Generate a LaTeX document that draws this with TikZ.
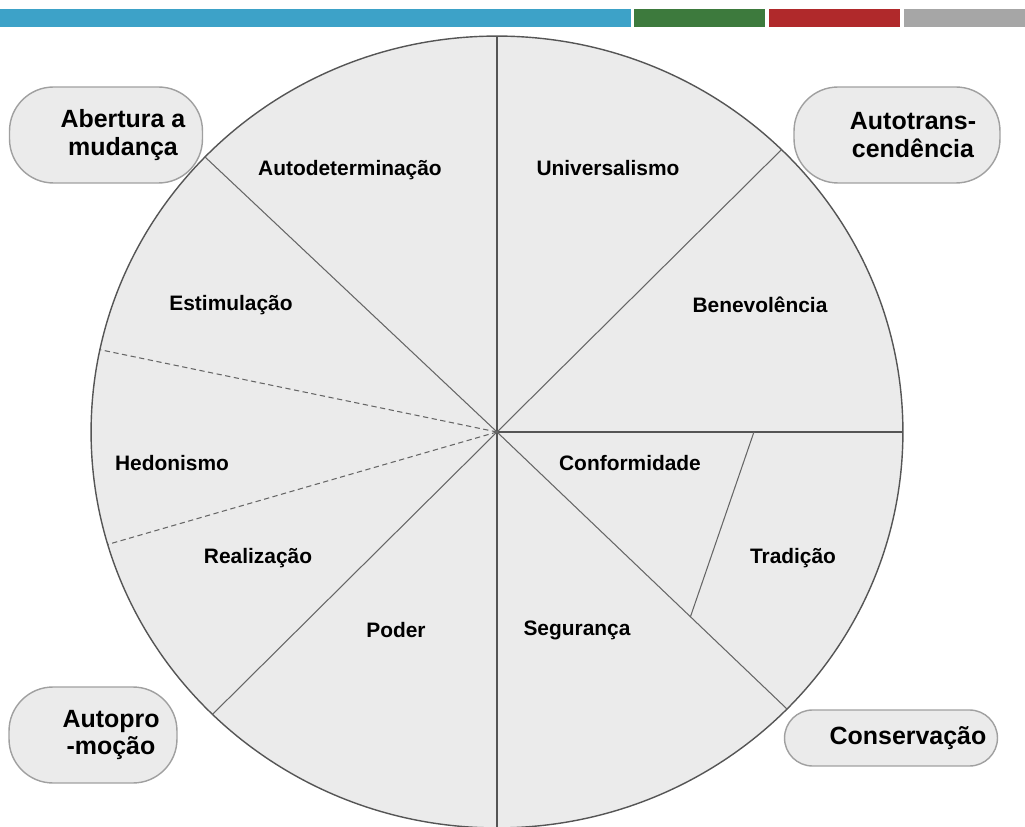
\documentclass[tikz,border=0pt]{standalone}
\usepackage{fontspec}
\setmainfont{Liberation Sans}
\usetikzlibrary{positioning}
\usetikzlibrary{calc}

\definecolor{barblue}{HTML}{3DA2C8}
\definecolor{bargreen}{HTML}{3D7A3D}
\definecolor{barred}{HTML}{B0292B}
\definecolor{bargray}{HTML}{A6A6A6}
\definecolor{wheelfill}{HTML}{EBEBEB}
\definecolor{rimgray}{HTML}{555555}
\definecolor{spokegray}{HTML}{666666}
\definecolor{pillborder}{HTML}{A0A0A0}

\begin{document}
\begin{tikzpicture}[x=0.02cm, y=-0.02cm,
                wedgelabel/.style={font=\bfseries\fontsize{11.9}{13}\selectfont},
                bigpill/.style={rectangle, rounded corners=0.88cm, draw=pillborder, fill=wheelfill, thick, minimum height=1.92cm},
                smallpill/.style={rectangle, rounded corners=0.56cm, draw=pillborder, fill=wheelfill, thick, minimum height=1.12cm},
                pilltext/.style={align=center, font=\bfseries\fontsize{14.2}{15.9}\selectfont},
                spoke/.style={draw=spokegray, line width=0.6pt},
                dashspoke/.style={draw=spokegray, line width=0.6pt, dash pattern=on 3pt off 2pt},
                ]
                \useasboundingbox (0,0) rectangle (1025,827);

                % colour bar on top
                \fill[barblue] (0,9) rectangle (631,27);
                \fill[bargreen] (634,9) rectangle (765,27);
                \fill[barred] (769,9) rectangle (900,27);
                \fill[bargray] (904,9) rectangle (1025,27);

                % wheel
                \coordinate (C) at (497,432);
                \draw[draw=rimgray, fill=wheelfill, line width=0.8pt] (C) ellipse [x radius=8.12cm, y radius=7.92cm];

                \coordinate (T) at ([shift={(90:8.12cm and 7.92cm)}]C);
                \coordinate (B) at ([shift={(-90:8.12cm and 7.92cm)}]C);
                \coordinate (R) at ([shift={(0:8.12cm and 7.92cm)}]C);
                \coordinate (UR) at ([shift={(45.5:8.12cm and 7.92cm)}]C);
                \coordinate (UL) at ([shift={(136:8.12cm and 7.92cm)}]C);
                \coordinate (LR) at ([shift={(-44.4:8.12cm and 7.92cm)}]C);
                \coordinate (LL) at ([shift={(-134.5:8.12cm and 7.92cm)}]C);
                \coordinate (DU) at ([shift={(168:8.12cm and 7.92cm)}]C);
                \coordinate (DL) at ([shift={(196.5:8.12cm and 7.92cm)}]C);

                \coordinate (RT) at ($(C)!0.633!(R)$);
                \coordinate (LT) at ($(C)!0.667!(LR)$);

                \draw[draw=rimgray, line width=0.9pt] (T) -- (B);
                \draw[draw=rimgray, line width=1.1pt] (C) -- (R);
                \draw[spoke] (C) -- (UR);
                \draw[spoke] (C) -- (UL);
                \draw[spoke] (C) -- (LR);
                \draw[spoke] (C) -- (LL);
                \draw[dashspoke] (C) -- (DU);
                \draw[dashspoke] (C) -- (DL);
                \draw[spoke] (RT) -- (LT);

                \node[wedgelabel] (AD) at (350,170) {Autodeterminação};
                \node[wedgelabel] (UN) at (608,168) {Universalismo};
                \node[wedgelabel] (ES) at (231,305) {Estimulação};
                \node[wedgelabel] (BE) at (760,305) {Benevolência};
                \node[wedgelabel] (HE) at (172,463) {Hedonismo};
                \node[wedgelabel] (CO) at (630,463) {Conformidade};
                \node[wedgelabel] (RE) at (258,558) {Realização};
                \node[wedgelabel] (TR) at (793,558) {Tradição};
                \node[wedgelabel] (PO) at (396,630) {Poder};
                \node[wedgelabel] (SE) at (577,630) {Segurança};

                % corner pills
                \node[bigpill, minimum width=3.86cm] (PAB) at (106,135) {};
                \node[bigpill, minimum width=4.12cm] (PAT) at (897,135) {};
                \node[bigpill, minimum width=3.36cm] (PAP) at (93,735) {};
                \node[smallpill, minimum width=4.26cm] (PCO) at (891,738) {};

                \node[pilltext, xshift=0.34cm] (AB) at (PAB) {Abertura a\\mudança};
                \node[pilltext, xshift=0.32cm] (AT) at (PAT) {Autotrans-\\cendência};
                \node[pilltext, xshift=0.36cm] (AP) at (PAP) {Autopro\\-moção};
                \node[pilltext, xshift=0.34cm] (CS) at (PCO) {Conservação};
            \end{tikzpicture}
\end{document}
